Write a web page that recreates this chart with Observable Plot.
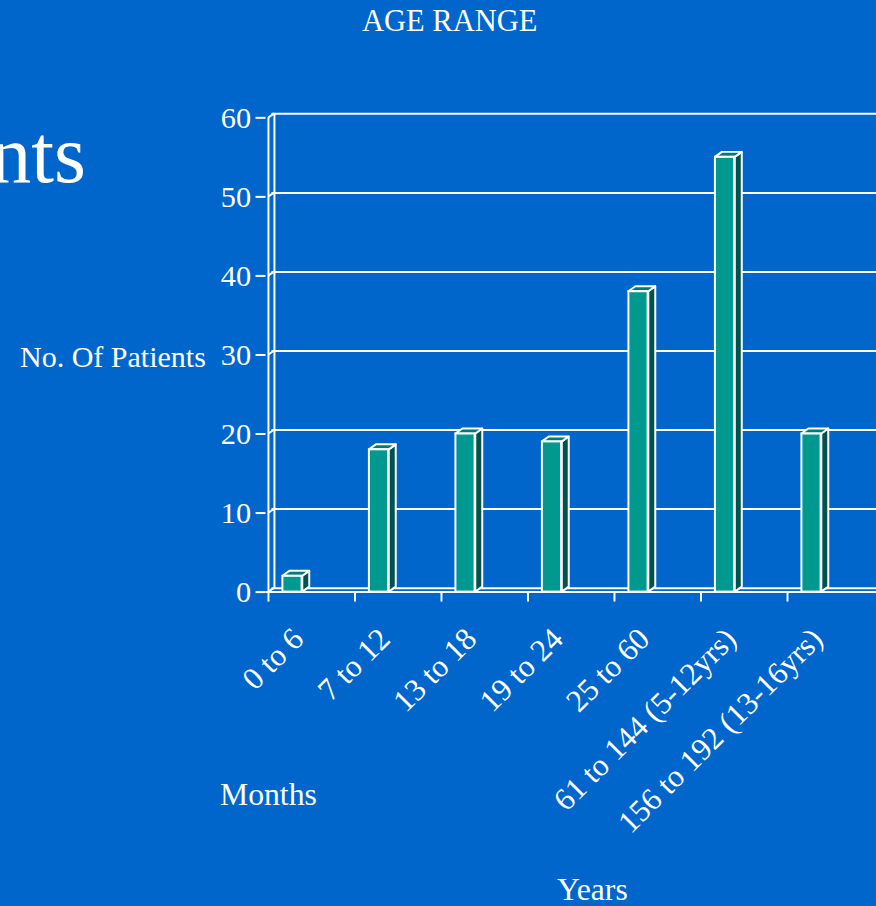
<!DOCTYPE html>
<html><head><meta charset="utf-8">
<script src="https://cdn.jsdelivr.net/npm/d3@7"></script>
<script src="https://cdn.jsdelivr.net/npm/@observablehq/plot@0.6"></script>
<style>
html,body{margin:0;padding:0;background:#0066CC;overflow:hidden;}
#wrap{position:relative;width:876px;height:906px;overflow:hidden;font-family:"Liberation Serif","Times New Roman",serif;color:#fff;}
#chart{position:absolute;left:0;top:0;}
.t{position:absolute;white-space:nowrap;line-height:1;font-size:30px;}
</style></head><body>
<div id="wrap">
  <div id="chart"></div>
  <div class="t" style="left:449.7px;top:6.3px;font-size:30.5px;transform:translateX(-50%)">AGE RANGE</div>
  <div class="t" style="left:86px;top:114px;font-size:82px;transform:translateX(-100%)">nts</div>
  <div class="t" style="left:20px;top:341.6px;">No. Of Patients</div>
  <div class="t" style="left:220px;top:778.6px;font-size:31.7px;">Months</div>
  <div class="t" style="left:557px;top:873.6px;font-size:31.7px;">Years</div>
</div>
<script>
const categories = ["0 to 6","7 to 12","13 to 18","19 to 24","25 to 60","61 to 144 (5-12yrs)","156 to 192 (13-16yrs)"];
const patients = [2, 18, 20, 19, 38, 55, 20];
const yTicks = [0, 10, 20, 30, 40, 50, 60];

const data = categories.map((c, i) => ({cat: c, value: patients[i]}));

const WX = 6, WY = -4;      // wall depth
const BX = 7, BY = -5;      // bar depth
const insetL = 14, barW = 20;

function walls(index, scales) {
  const x = scales.x, y = scales.y;
  const x0 = x(categories[0]);
  const g = d3.create("svg:g").attr("stroke", "white").attr("stroke-width", 2).attr("fill", "none");
  g.append("line").attr("x1", x0 + WX).attr("x2", x0 + WX).attr("y1", y(0) + WY).attr("y2", y(60) + WY);
  g.append("line").attr("x1", x0).attr("x2", x0).attr("y1", y(0)).attr("y2", y(60));
  for (const t of yTicks) {
    g.append("line").attr("x1", x0).attr("y1", y(t)).attr("x2", x0 + WX).attr("y2", y(t) + WY);
  }
  for (const c of categories) {
    g.append("line").attr("x1", x(c)).attr("x2", x(c)).attr("y1", y(0)).attr("y2", y(0) + 10);
  }
  return g.node();
}

function barDepth(index, scales) {
  const x = scales.x, y = scales.y;
  const g = d3.create("svg:g").attr("stroke", "white").attr("stroke-width", 2).attr("stroke-linejoin", "round");
  for (const d of data) {
    const xl = x(d.cat) + insetL, xr = xl + barW;
    const y0 = y(0), yv = y(d.value);
    g.append("path").attr("fill", "#00524c")
      .attr("d", `M${xr},${y0}L${xr + BX},${y0 + BY}L${xr + BX},${yv + BY}L${xr},${yv}Z`);
    g.append("path").attr("fill", "#007a72")
      .attr("d", `M${xl},${yv}L${xl + BX},${yv + BY}L${xr + BX},${yv + BY}L${xr},${yv}Z`);
  }
  return g.node();
}

const bw = (881 - 267) / categories.length;

const chart = Plot.plot({
  width: 881,
  height: 906,
  marginLeft: 267,
  marginRight: 0,
  marginTop: 118,
  marginBottom: 311,
  style: {background: "transparent", color: "white", fontFamily: "'Liberation Serif','Times New Roman',serif", fontSize: "30px", overflow: "visible"},
  x: {domain: categories, padding: 0, axis: null},
  y: {domain: [0, 60], axis: null},
  marks: [
    Plot.ruleY(yTicks, {stroke: "white", strokeWidth: 2, dx: WX, dy: WY}),
    Plot.ruleY([0], {stroke: "white", strokeWidth: 2}),
    walls,
    Plot.axisY(yTicks, {tickSize: 10, tickPadding: 5, fontSize: 30.5, stroke: "white", strokeWidth: 2, fill: "white", label: null}),
    barDepth,
    Plot.barY(data, {x: "cat", y: "value", fill: "#009990", stroke: "white", strokeWidth: 2, insetLeft: insetL, insetRight: bw - insetL - barW}),
    Plot.text(data, {x: "cat", frameAnchor: "bottom", text: "cat", rotate: -45, textAnchor: "end", lineAnchor: "middle", dx: -14, dy: 42, fontSize: 31.5, fill: "white"})
  ]
});
document.getElementById("chart").appendChild(chart);
</script>
</body></html>
